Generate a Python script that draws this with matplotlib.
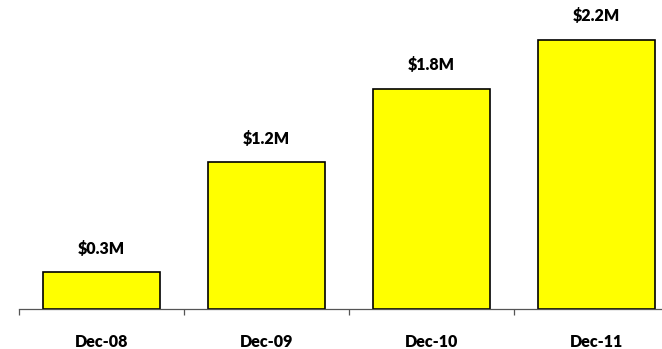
import matplotlib
matplotlib.use("Agg")
import matplotlib.pyplot as plt
import matplotlib.transforms as mtransforms

categories = ["Dec-08", "Dec-09", "Dec-10", "Dec-11"]
values = [0.3, 1.2, 1.8, 2.2]
labels = ["$0.3M", "$1.2M", "$1.8M", "$2.2M"]

plt.rcParams['font.family'] = ['Lato', 'DejaVu Sans']

W, H = 662, 349
fig = plt.figure(figsize=(W/100, H/100), dpi=100)
ax = fig.add_axes([19/W, 40/H, 660/W, 306/H])

x = list(range(len(categories)))
ax.bar(x, values, width=0.715, color="#FFFF00", edgecolor="black", linewidth=1.2)

off = mtransforms.ScaledTranslation(0, 11/72, fig.dpi_scale_trans)
for xi, v, lab in zip(x, values, labels):
    ax.text(xi, v, lab, ha="center", va="bottom", fontsize=11.5, fontweight="heavy",
            transform=ax.transData + off)

ax.set_xlim(-0.5, 3.5)
ax.set_ylim(0, 2.5)
for s in ["top", "right", "left"]:
    ax.spines[s].set_visible(False)
ax.spines["bottom"].set_color("#555555")
ax.spines["bottom"].set_linewidth(0.9)
ax.set_yticks([])
ax.set_xticks([-0.5, 0.5, 1.5, 2.5, 3.5])
ax.set_xticklabels([])
ax.tick_params(axis="x", which="major", length=4, width=0.9, color="#555555", direction="out")
ax.set_xticks(x, minor=True)
ax.set_xticklabels(categories, minor=True, fontsize=11.5, fontweight="heavy")
ax.tick_params(axis="x", which="minor", length=0, pad=18)

fig.savefig("out.png", dpi=100)
